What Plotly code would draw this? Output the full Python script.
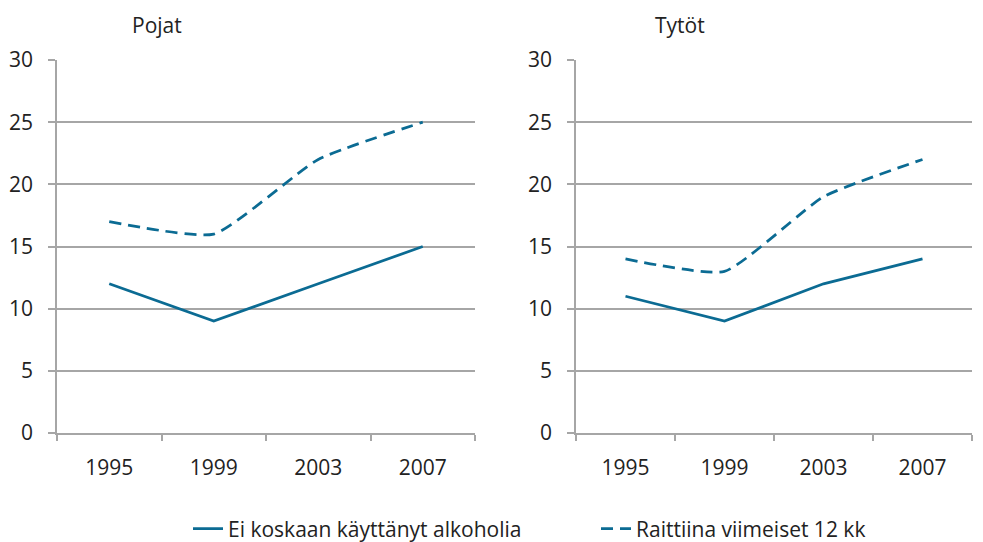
import plotly.graph_objects as go

years = ["1995", "1999", "2003", "2007"]
pojat_ei = [12, 9, 12, 15]
pojat_raitt = [17, 16, 22, 25]
tytot_ei = [11, 9, 12, 14]
tytot_raitt = [14, 13, 19, 22]
y_ticks = [0, 5, 10, 15, 20, 25, 30]
panel_titles = ["Pojat", "Tytöt"]
series_names = ["Ei koskaan käyttänyt alkoholia", "Raittiina viimeiset 12 kk"]

COLOR = "#0b6b93"
GRID = "#a6a6a6"
FONT = "Open Sans"
FS = 21
TXT = "#222222"
DASH = "12px,7px"

fig = go.Figure()
fig.add_trace(go.Scatter(x=years, y=pojat_ei, mode="lines", name=series_names[0],
                         line=dict(color=COLOR, width=2.75), xaxis="x", yaxis="y"))
fig.add_trace(go.Scatter(x=years, y=pojat_raitt, mode="lines", name=series_names[1],
                         line=dict(color=COLOR, width=2.75, dash=DASH, shape="spline", smoothing=0.5),
                         xaxis="x", yaxis="y"))
fig.add_trace(go.Scatter(x=years, y=tytot_ei, mode="lines", name=series_names[0], showlegend=False,
                         line=dict(color=COLOR, width=2.75), xaxis="x2", yaxis="y2"))
fig.add_trace(go.Scatter(x=years, y=tytot_raitt, mode="lines", name=series_names[1], showlegend=False,
                         line=dict(color=COLOR, width=2.75, dash=DASH, shape="spline", smoothing=0.5),
                         xaxis="x2", yaxis="y2"))

W, H = 983, 542
def px(v): return v / W
def py(v): return 1 - v / H

xcommon = dict(type="category", tickson="boundaries", ticks="outside", ticklen=6, tickcolor=GRID,
               tickwidth=1.5, showline=True, linecolor=GRID, linewidth=1.5, showgrid=False,
               zeroline=False, ticklabelstandoff=15, tickfont=dict(family=FONT, size=FS, color=TXT),
               range=[-0.5, 3.5], fixedrange=True, automargin=False)
ycommon = dict(range=[0, 30], tickvals=y_ticks, ticks="outside", ticklen=7, tickcolor=GRID, tickwidth=1.5,
               showline=True, linecolor=GRID, linewidth=1.5, showgrid=True, gridcolor=GRID, gridwidth=1.5,
               zeroline=False, ticklabelstandoff=11, tickfont=dict(family=FONT, size=FS, color=TXT),
               fixedrange=True, automargin=False)

fig.update_layout(
    width=W, height=H,
    margin=dict(l=0, r=0, t=0, b=0, autoexpand=False),
    paper_bgcolor="white", plot_bgcolor="white",
    font=dict(family=FONT, size=FS, color=TXT),
    xaxis=dict(domain=[px(57), px(475)], anchor="y", **xcommon),
    yaxis=dict(domain=[py(433), py(60)], anchor="x", **ycommon),
    xaxis2=dict(domain=[px(576), px(972)], anchor="y2", **xcommon),
    yaxis2=dict(domain=[py(433), py(60)], anchor="x2", **ycommon),
    legend=dict(orientation="h", x=px(188), xanchor="left", y=py(529), yanchor="middle",
                font=dict(family=FONT, size=FS, color=TXT), bgcolor="rgba(0,0,0,0)",
                entrywidth=363, entrywidthmode="pixels", tracegroupgap=0),
    showlegend=True,
    annotations=[
        dict(text=panel_titles[0], x=px(157), y=py(25), xref="paper", yref="paper",
             xanchor="center", yanchor="middle",
             showarrow=False, font=dict(family=FONT, size=FS, color=TXT)),
        dict(text=panel_titles[1], x=px(680), y=py(25), xref="paper", yref="paper",
             xanchor="center", yanchor="middle",
             showarrow=False, font=dict(family=FONT, size=FS, color=TXT)),
    ],
)

fig.write_html("out.html", config={"displayModeBar": False},
               post_script="document.body.style.margin='0';document.body.style.overflow='hidden';")
